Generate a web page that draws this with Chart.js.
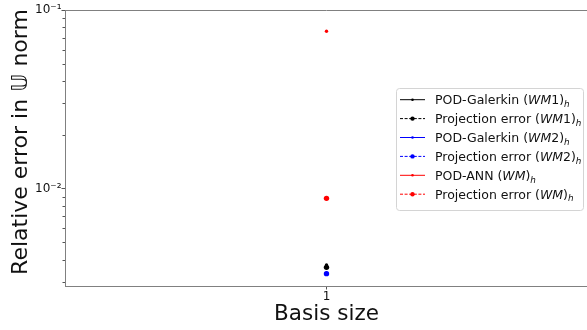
<!DOCTYPE html>
<html>
<head>
<meta charset="utf-8">
<script src="https://cdn.jsdelivr.net/npm/chart.js@4"></script>
<style>
  html, body { margin: 0; padding: 0; overflow: hidden; background: #fff; }
  canvas { display: block; }
</style>
</head>
<body>
<canvas id="chart" width="592" height="330" style="width:592px;height:330px"></canvas>
<script>
// Basis sizes on the x axis
const basisSizes = [1];

// Relative errors in the U norm, one value per basis size
const galerkinWM1   = [0.00374];
const projectionWM1 = [0.003625];
const galerkinWM2   = [0.00336];
const projectionWM2 = [0.003342];
const podAnnWM      = [0.076];
const projectionWM  = [0.00882];

// Log-axis tick positions (minor ticks) and the decades that get labels
const yTickValues = [0.003, 0.004, 0.005, 0.006, 0.007, 0.008, 0.009,
                     0.01, 0.02, 0.03, 0.04, 0.05, 0.06, 0.07, 0.08, 0.09, 0.1];
const yTickLabels = [[0.01, '10⁻²'], [0.1, '10⁻¹']];
const xTickLabels = ['1'];

const xAxisTitle = 'Basis size';
const yAxisTitle = 'Relative error in 𝕌 norm';

const seriesLabels = [
  'POD-Galerkin (WM1)_h',
  'Projection error (WM1)_h',
  'POD-Galerkin (WM2)_h',
  'Projection error (WM2)_h',
  'POD-ANN (WM)_h',
  'Projection error (WM)_h'
];
const seriesValues = [galerkinWM1, projectionWM1, galerkinWM2, projectionWM2, podAnnWM, projectionWM];
const seriesColors = ['#000000', '#000000', '#0000ff', '#0000ff', '#ff0000', '#ff0000'];
const seriesDashed = [false, true, false, true, false, true];

const FONT = "'DejaVu Sans', 'Liberation Sans', sans-serif";
const SPINE = '#808080';

function labelFor(v) {
  for (const [val, txt] of yTickLabels) {
    if (Math.abs(v - val) / val < 1e-6) return txt;
  }
  return '';
}

// Writes "Name (WM1)_h" with an italic math part and an italic subscript
function drawMathLabel(ctx, label, x, y, size) {
  const m = label.match(/^(.*)\(([A-Za-z]+)(\d*)\)_(\w)$/);
  ctx.textAlign = 'left';
  ctx.textBaseline = 'alphabetic';
  const put = (txt, font, dy) => {
    ctx.font = font;
    ctx.fillText(txt, x, y + (dy || 0));
    x += ctx.measureText(txt).width;
  };
  if (!m) { put(label, size + 'px ' + FONT); return; }
  const normal = size + 'px ' + FONT;
  const italic = 'italic ' + size + 'px ' + FONT;
  put(m[1] + '(', normal);
  put(m[2], italic);
  if (m[3]) put(m[3], normal);
  put(')', normal);
  put(m[4], 'italic ' + (size * 0.7).toFixed(1) + 'px ' + FONT, size * 0.22);
}

const framePlugin = {
  id: 'frame',
  afterDraw(chart) {
    const { ctx, chartArea: a } = chart;
    const ys = chart.scales.y;
    ctx.save();
    // top and right spines
    ctx.strokeStyle = SPINE;
    ctx.lineWidth = 1;
    ctx.beginPath();
    ctx.moveTo(a.left, a.top + 0.5);
    ctx.lineTo(a.right, a.top + 0.5);
    ctx.moveTo(a.right - 0.5, a.top);
    ctx.lineTo(a.right - 0.5, a.bottom);
    ctx.stroke();

    // short minor ticks on the log axis
    ctx.strokeStyle = '#555';
    ctx.beginPath();
    for (const t of ys.ticks) {
      if (labelFor(t.value)) continue;
      const py = Math.round(ys.getPixelForValue(t.value)) + 0.5;
      ctx.moveTo(a.left - 2.5, py);
      ctx.lineTo(a.left, py);
    }
    ctx.stroke();

    // axis titles
    ctx.fillStyle = '#111';
    ctx.font = '21.5px ' + FONT;
    ctx.textAlign = 'center';
    ctx.textBaseline = 'alphabetic';
    ctx.fillText(xAxisTitle, (a.left + a.right) / 2, 320);
    ctx.save();
    ctx.translate(27, 142);
    ctx.rotate(-Math.PI / 2);
    ctx.font = '22px ' + FONT;
    ctx.fillText(yAxisTitle, 0, 0);
    ctx.restore();

    // legend
    const lx = 396.5, ly = 88.5, lw = 187, lh = 122;
    ctx.beginPath();
    ctx.roundRect(lx, ly, lw, lh, 3);
    ctx.fillStyle = 'rgba(255,255,255,0.8)';
    ctx.fill();
    ctx.strokeStyle = '#d4d4d4';
    ctx.stroke();
    chart.data.datasets.forEach((ds, i) => {
      const ry = 99.7 + i * 18.9;
      ctx.strokeStyle = ds.borderColor;
      ctx.lineWidth = 1;
      ctx.setLineDash(seriesDashed[i] ? [3, 1.6] : []);
      ctx.beginPath();
      ctx.moveTo(400, ry);
      ctx.lineTo(425, ry);
      ctx.stroke();
      ctx.setLineDash([]);
      ctx.fillStyle = ds.borderColor;
      ctx.beginPath();
      ctx.arc(412.5, ry, seriesDashed[i] ? 2.2 : 1.3, 0, Math.PI * 2);
      ctx.fill();
      ctx.fillStyle = '#111';
      drawMathLabel(ctx, ds.label, 435, ry + 4.5, 12.5);
    });
    ctx.restore();
  }
};

const datasets = seriesLabels.map((label, i) => ({
  label,
  data: basisSizes.map((x, k) => ({ x, y: seriesValues[i][k] })),
  borderColor: seriesColors[i],
  backgroundColor: seriesColors[i],
  borderWidth: 1,
  borderDash: seriesDashed[i] ? [3, 1.6] : [],
  pointRadius: seriesDashed[i] ? 2.7 : 1.7,
  pointBorderWidth: 0,
  pointBackgroundColor: seriesColors[i],
  order: seriesLabels.length - i
}));

new Chart(document.getElementById('chart'), {
  type: 'line',
  data: { datasets },
  options: {
    responsive: false,
    animation: false,
    devicePixelRatio: 1,
    layout: { padding: { left: 0, right: 2, top: 10, bottom: 0 } },
    plugins: { legend: { display: false }, tooltip: { enabled: false } },
    scales: {
      x: {
        type: 'linear',
        min: 0,
        max: 2,
        afterBuildTicks(scale) { scale.ticks = basisSizes.map(v => ({ value: v })); },
        afterFit(scale) { scale.height = 44; },
        border: { color: SPINE, width: 1 },
        grid: { drawOnChartArea: false, tickLength: 3.5, tickColor: '#555', tickWidth: 1 },
        ticks: {
          padding: 0,
          color: '#111',
          font: { family: FONT, size: 12 },
          callback: (v, i) => xTickLabels[i] ?? String(v)
        }
      },
      y: {
        type: 'logarithmic',
        min: 0.00285,
        max: 0.1,
        afterBuildTicks(scale) { scale.ticks = yTickValues.map(v => ({ value: v, major: !!labelFor(v) })); },
        afterFit(scale) { scale.width = 65; },
        border: { color: SPINE, width: 1 },
        grid: {
          drawOnChartArea: false,
          tickLength: 3.5,
          tickWidth: 1,
          tickColor: ctx => (ctx.tick && labelFor(ctx.tick.value)) ? '#555' : 'rgba(0,0,0,0)'
        },
        ticks: {
          autoSkip: false,
          padding: 0,
          color: '#111',
          font: { family: FONT, size: 12 },
          callback: v => labelFor(v)
        }
      }
    }
  },
  plugins: [framePlugin]
});
</script>
</body>
</html>
